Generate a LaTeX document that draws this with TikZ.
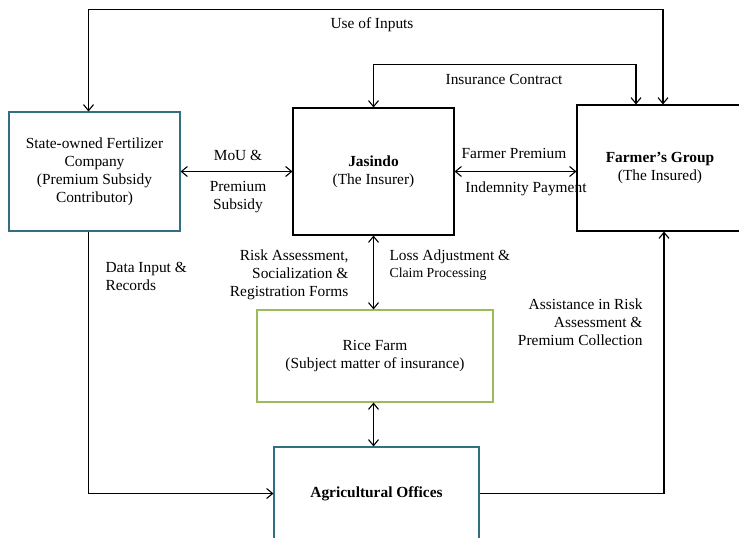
\documentclass[tikz,border=0pt]{standalone}
\usepackage{fontspec}
\setmainfont{Liberation Serif}
\usetikzlibrary{arrows.meta}
\definecolor{tealedge}{HTML}{33707F}
\definecolor{greenedge}{HTML}{9BBB59}
\begin{document}
\begin{tikzpicture}[x=1pt,y=-1pt,line width=1.1pt,
  >={Straight Barb[length=6pt,width=10pt]},
  box/.style={draw,rectangle,align=center,inner sep=0pt,font=\fontsize{15.4}{18}\selectfont},
  lbl/.style={inner sep=0pt,font=\fontsize{15.4}{18}\selectfont},
  small/.style={inner sep=0pt,font=\fontsize{13.8}{16}\selectfont}]
\useasboundingbox(0,0)rectangle(739,538);
\clip(0,0)rectangle(739,538);
% the five parties
\node[box,draw=tealedge,minimum width=171pt,minimum height=119pt](soe)at(94.5,171.5){State-owned Fertilizer\\Company\\(Premium Subsidy\\Contributor)};
\node[box,minimum width=161pt,minimum height=127pt](jas)at(373.5,171.5){\textbf{Jasindo}\\(The Insurer)};
\node[box,minimum width=166pt,minimum height=126pt](far)at(660,168){\textbf{Farmer’s Group}\\(The Insured)};
\node[box,draw=greenedge,minimum width=236pt,minimum height=92pt](rice)at(375,356){Rice Farm\\(Subject matter of insurance)};
\node[box,draw=tealedge,minimum width=205pt,minimum height=93pt](agri)at(376.5,493.5){\textbf{Agricultural Offices}};
% links over the top
\draw[<->]([xshift=-6pt]soe.north)--++(0,-102)-|([xshift=3pt]far.north);
\draw[<->](jas.north)--++(0,-43)-|([xshift=-24pt]far.north);
\node[lbl](inputs)at(372,25){Use of Inputs};
\node[lbl](contract)at(504,79){Insurance Contract};
% side by side links
\draw[<->](soe.east)--(jas.west);
\node[lbl](mou)at(238,155){MoU \&};
\node[lbl,align=center](subsidy)at(238,197){Premium\\Subsidy};
\draw[<->](jas.east)--(jas.east-|far.west);
\node[lbl](fprem)at(514,153){Farmer Premium};
\node[lbl](indem)at(526,189){Indemnity Payment};
% down the middle
\draw[<->](jas.south)--(jas.south|-rice.north);
\draw[<->](rice.south-|jas.south)--(agri.north-|jas.south);
\node[lbl,align=right,anchor=east](risk)at(349,275){Risk Assessment,\\Socialization \&\\Registration Forms};
\node[lbl,anchor=west](loss)at(389,257){Loss Adjustment \&};
\node[small,anchor=west](claim)at(389,274){Claim Processing};
% via the agricultural offices
\draw[->]([xshift=-6pt]soe.south)|-(agri.west);
\node[lbl,align=left,anchor=west](data)at(105,276){Data Input \&\\Records};
\draw[->](agri.east)-|([xshift=4pt]far.south);
\node[lbl,align=right,anchor=east](assist)at(643,322){Assistance in Risk\\Assessment \&\\Premium Collection};
\end{tikzpicture}
\end{document}
